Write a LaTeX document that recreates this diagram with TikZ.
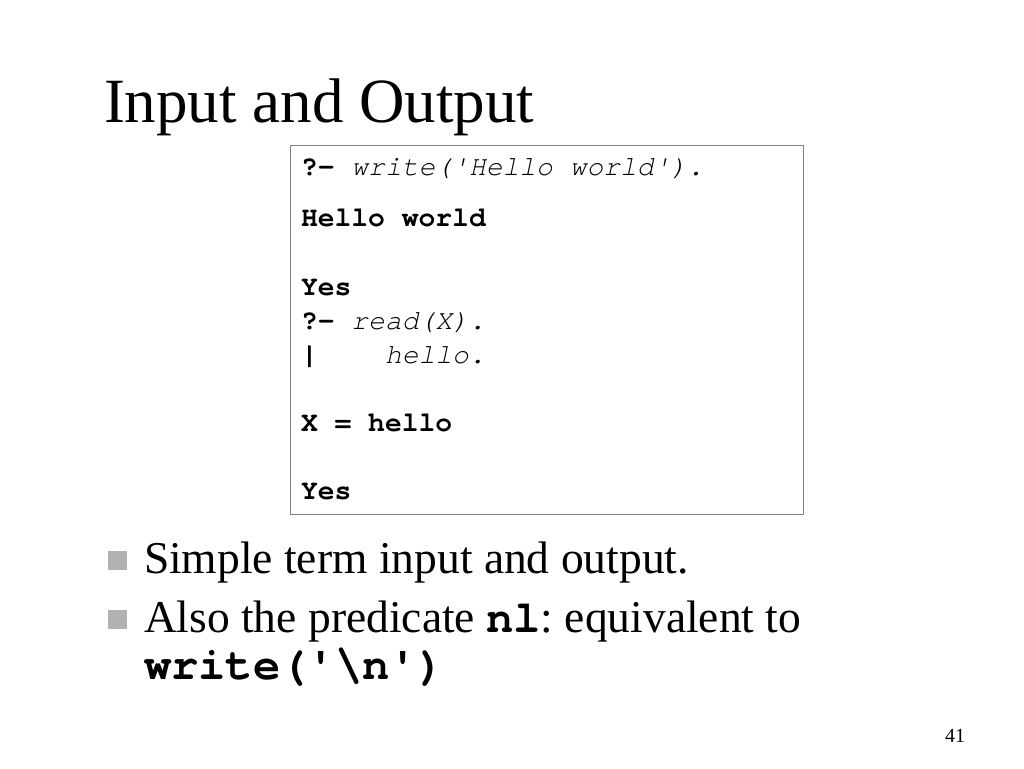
\documentclass[tikz,border=0pt]{standalone}
\usepackage{fontspec}
\setmainfont{Liberation Serif}
\setmonofont{texgyrecursor}[Extension=.otf, UprightFont=*-regular, BoldFont=*-bold, ItalicFont=*-italic, BoldItalicFont=*-bolditalic]
\frenchspacing
\begin{document}
\begin{tikzpicture}[x=1pt,y=-1pt,
  txt/.style={anchor=base west, inner sep=0pt, outer sep=0pt},
  title/.style={txt, font=\fontsize{63}{70}\selectfont},
  code/.style={txt, font=\fontsize{28}{34}\selectfont\ttfamily},
  body/.style={txt, font=\fontsize{45.5}{54}\selectfont},
  bul/.style={fill=black!30, inner sep=0pt, minimum size=19pt, outer sep=0pt},
  codebox/.style={draw=black!50, line width=1.3pt, inner sep=0pt, anchor=north west,
    minimum width=513pt, minimum height=369pt}
]
\useasboundingbox (0,0) rectangle (1024,768);
\node[title] (t) at (104,122) {Input and Output};
\node[codebox] (box) at (290,145) {};
\node[code] (c1) at (301,175) {\textbf{?-}\hspace{16.8pt}\textit{write('Hello world').}};
\node[code] (c2) at (301,226) {\textbf{Hello world}};
\node[code] (c3) at (301,295) {\textbf{Yes}};
\node[code] (c4) at (301,329) {\textbf{?-}\hspace{16.8pt}\textit{read(X).}};
\node[code] (c5) at (301,363) {\textbf{|}\hspace{67.2pt}\textit{hello.}};
\node[code] (c6) at (301,431) {\textbf{X = hello}};
\node[code] (c7) at (301,499) {\textbf{Yes}};
\node[bul] (b1) at (117,560.5) {};
\node[bul] (b2) at (117,619.5) {};
\node[body] (l1) at (144,573) {Simple term input and output.};
\node[body] (l2) at (144,632) {Also the predicate {\ttfamily\bfseries nl}: equivalent to};
\node[body] (l3) at (144,679) {\ttfamily\bfseries write('\textbackslash n')};
\node[txt, font=\fontsize{20}{24}\selectfont] (pg) at (945,742) {41};
\end{tikzpicture}
\end{document}
